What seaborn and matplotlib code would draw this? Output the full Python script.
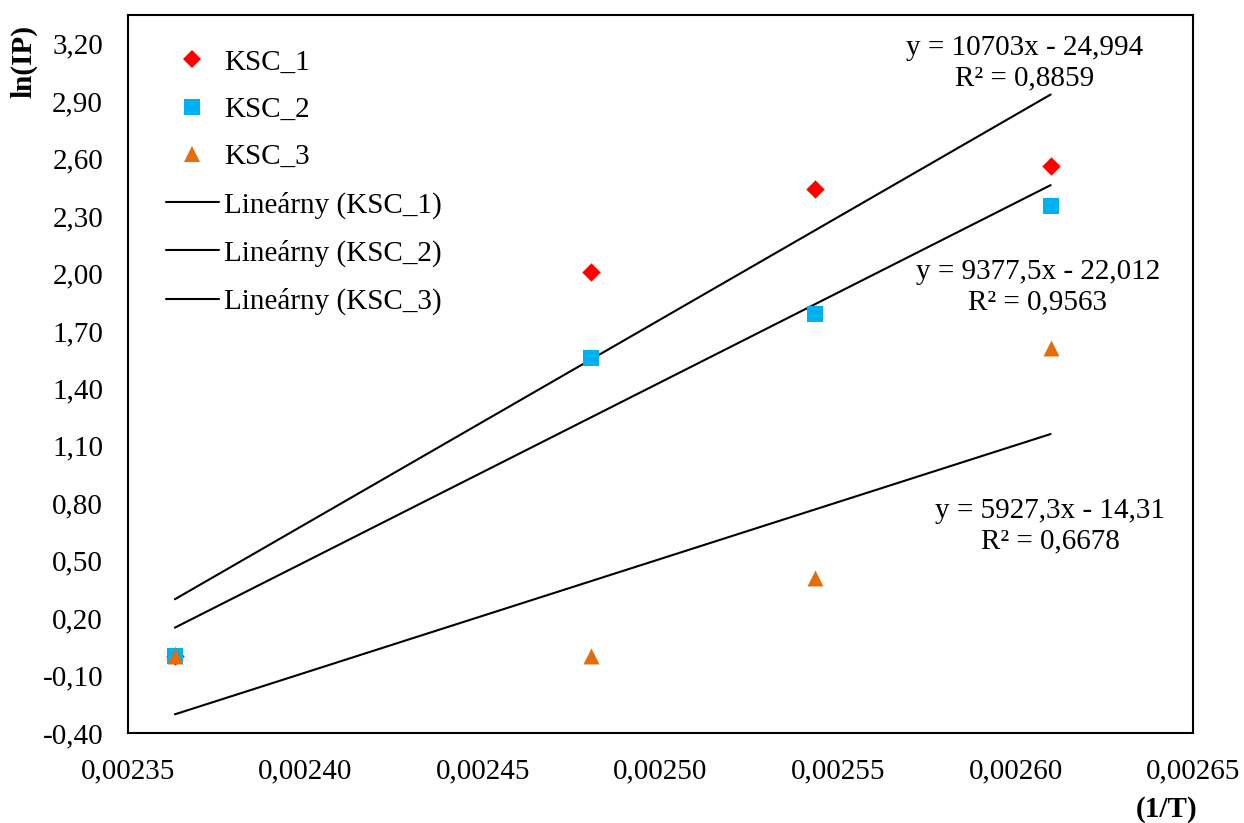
import numpy as np
import pandas as pd
import matplotlib
matplotlib.use("Agg")
import matplotlib.pyplot as plt
from matplotlib.ticker import FuncFormatter
from matplotlib.lines import Line2D
import seaborn as sns

# ---- data ----
inv_T = [0.0023632, 0.0024804, 0.0025436, 0.0026099]
ksc_1 = [0.00, 2.01, 2.44, 2.56]
ksc_2 = [0.00, 1.56, 1.79, 2.35]
ksc_3 = [0.00, 0.00, 0.41, 1.61]
series_names = ["KSC_1", "KSC_2", "KSC_3"]
trend_names = ["Lineárny (KSC_1)", "Lineárny (KSC_2)", "Lineárny (KSC_3)"]
equations = ["y = 10703x - 24,994\nR² = 0,8859",
             "y = 9377,5x - 22,012\nR² = 0,9563",
             "y = 5927,3x - 14,31\nR² = 0,6678"]
x_ticks = [0.00235, 0.00240, 0.00245, 0.00250, 0.00255, 0.00260, 0.00265]
y_ticks = [-0.40, -0.10, 0.20, 0.50, 0.80, 1.10, 1.40, 1.70, 2.00, 2.30, 2.60, 2.90, 3.20]

# ---- style ----
sns.set_theme(style="white")
plt.rcParams["font.family"] = ["Liberation Serif", "DejaVu Serif"]
plt.rcParams["text.color"] = "black"
plt.rcParams["axes.labelcolor"] = "black"

FS = 21
colors = ["#FF0000", "#00B0F0", "#E46C0A"]
markers = ["D", "s", "^"]
sizes = [88, 118, 132]

fig = plt.figure(figsize=(12.44, 8.23), dpi=100)
ax = fig.add_axes([128/1244, 1-733/823, (1193-128)/1244, (733-15)/823])

ys = [ksc_1, ksc_2, ksc_3]
# trend lines
line_handles = []
for y, name in zip(ys, trend_names):
    sns.regplot(x=np.array(inv_T), y=np.array(y), scatter=False, ci=None,
                truncate=True, color="black", line_kws={"lw": 1.5, "zorder": 2},
                ax=ax)
    line_handles.append(Line2D([0], [0], color="black", lw=1.5))

# scatter points
point_handles = []
for y, c, m, s, name in zip(ys, colors, markers, sizes, series_names):
    sns.scatterplot(x=inv_T, y=y, marker=m, color=c, s=s, linewidth=0,
                    ax=ax, zorder=3, legend=False)
    point_handles.append(Line2D([0], [0], marker=m, color=c, lw=0,
                                markersize=np.sqrt(s), markeredgewidth=0))

ax.set_xlim(0.00235, 0.00265)
ax.set_ylim(-0.40, 3.35)
ax.set_xticks(x_ticks)
ax.set_yticks(y_ticks)
ax.xaxis.set_major_formatter(FuncFormatter(lambda v, p: f"{v:.5f}".replace(".", ",")))
ax.yaxis.set_major_formatter(FuncFormatter(lambda v, p: f"{v:.2f}".replace(".", ",")))
ax.tick_params(axis="both", direction="out", length=7, width=1.5,
               labelsize=FS, colors="black", labelcolor="black")
ax.tick_params(axis="y", pad=11)
ax.tick_params(axis="x", pad=11)
for sp in ax.spines.values():
    sp.set_visible(True)
    sp.set_color("black")
    sp.set_linewidth(1.5)
ax.grid(False)

ax.set_ylabel("ln(IP)", fontsize=FS, fontweight="bold", color="black")
ax.yaxis.set_label_coords((37-128)/1065, (733-61)/718)
ax.set_xlabel("(1/T)", fontsize=FS, fontweight="bold", color="black")
ax.xaxis.set_label_coords((1167-128)/1065, (733-796)/718)

# equations
eq_pos = [((1025-128)/1065, (733-63)/718),
          ((1038-128)/1065, (733-287)/718),
          ((1050-128)/1065, (733-526)/718)]
for txt, (px, py) in zip(equations, eq_pos):
    ax.text(px, py, txt, transform=ax.transAxes, ha="center", va="center",
            multialignment="center", fontsize=FS, color="black", linespacing=1.2)

leg = ax.legend(point_handles + line_handles, series_names + trend_names,
                loc="upper left", bbox_to_anchor=((166-128)/1065, (733-49)/718),
                frameon=False, fontsize=FS, handlelength=1.8, handletextpad=0.2,
                labelspacing=0.72, borderaxespad=0, borderpad=0)
for t in leg.get_texts():
    t.set_color("black")

fig.savefig("out.png", dpi=100)
